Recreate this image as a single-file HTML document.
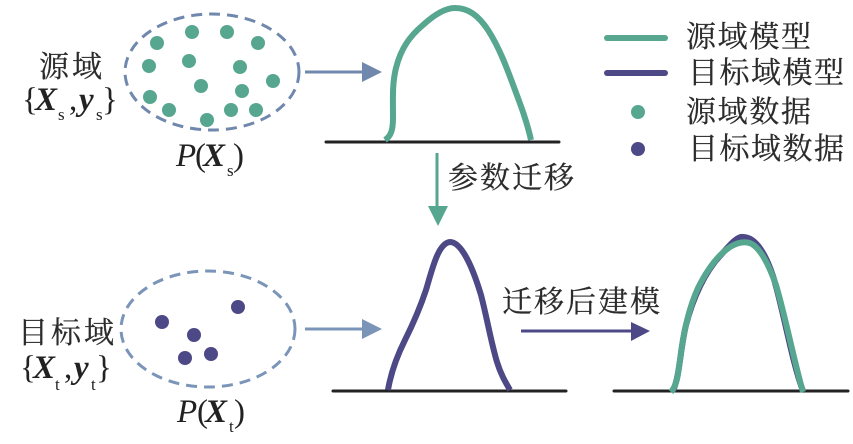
<!DOCTYPE html>
<html><head><meta charset="utf-8"><style>
html,body{margin:0;padding:0;background:#fff}
svg{display:block}
.c{font-family:"Liberation Serif","Noto Serif CJK SC",serif;font-size:30px;fill:#2b2b2b;stroke:#2b2b2b;stroke-width:.25}
.m{font-family:"Liberation Serif",serif;fill:#222}
.b{font-weight:bold;font-style:italic;font-size:33px}
.i{font-style:italic;font-size:33px}
.r{font-size:33px}
.s{font-size:17px}
</style></head><body>
<svg width="853" height="444" viewBox="0 0 853 444" xmlns="http://www.w3.org/2000/svg">
<g fill="none" stroke="#7088ad" stroke-width="3" stroke-dasharray="11 7">
<ellipse cx="212" cy="72" rx="87" ry="58"/>
<ellipse cx="208" cy="329" rx="87" ry="58" stroke="#7a95b8"/>
</g>
<g fill="#57a68f">
<circle cx="157" cy="43" r="7"/><circle cx="192" cy="32" r="7"/><circle cx="227" cy="32" r="7"/><circle cx="258" cy="43" r="7"/>
<circle cx="149" cy="66" r="7"/><circle cx="189" cy="61" r="7"/><circle cx="240" cy="67" r="7"/><circle cx="273" cy="81" r="7"/>
<circle cx="201" cy="86" r="7"/><circle cx="242" cy="91" r="7"/><circle cx="150" cy="97" r="7"/><circle cx="169" cy="110" r="7"/>
<circle cx="207" cy="120" r="7"/><circle cx="231" cy="110" r="7"/><circle cx="256" cy="110" r="7"/>
<circle cx="638" cy="112" r="7"/>
</g>
<g fill="#4d4886">
<circle cx="162" cy="322" r="7"/><circle cx="238" cy="307" r="7"/><circle cx="194" cy="335" r="7"/><circle cx="185" cy="358" r="7"/><circle cx="211" cy="354" r="7"/>
<circle cx="638" cy="149" r="7"/>
</g>
<g stroke="#222" stroke-width="3" stroke-linecap="round">
<line x1="326" y1="142" x2="559" y2="142"/>
<line x1="333" y1="391" x2="566" y2="391"/>
<line x1="614" y1="391" x2="848" y2="391"/>
</g>
<path d="M385 140C391 136 393 130 393 118C393 100 392 84 396 68C401 48 410 36 423 25C434 15 445 8 455 8C468 8 478 15 488 30C499 47 507 68 515 90C521 106 527 122 531 140" fill="none" stroke="#57a68f" stroke-width="6"/>
<path d="M388 390C391 372 397 356 405 340C413 324 420 308 426 290C432 270 438 243 450 242C461 242 472 265 481 295C487 318 491 342 497 362C501 375 506 383 510 390" fill="none" stroke="#4d4886" stroke-width="6"/>
<path d="M673 391C680 375 680 350 686 325C693 298 705 272 720 256C729 246 737 236 743 237C756 237 766 255 773 276C779 295 784 320 790 345C794 362 798 378 803 391" fill="none" stroke="#4d4886" stroke-width="6"/>
<path d="M671 392C677 385 678 375 680 360C683 335 688 310 698 288C707 270 718 255 730 247C738 242 746 241 752 244C762 250 770 268 776 285C785 315 795 365 803 392" fill="none" stroke="#57a68f" stroke-width="6"/>
<g stroke-width="3" fill="none">
<line x1="305" y1="72" x2="364" y2="72" stroke="#7088ad"/>
<line x1="305" y1="329" x2="364" y2="329" stroke="#7a95b8"/>
<line x1="437" y1="153" x2="437" y2="208" stroke="#57a68f"/>
<line x1="521" y1="331" x2="633" y2="331" stroke="#4d4886"/>
</g>
<polygon points="362,62 382,72 362,82" fill="#7088ad"/>
<polygon points="362,319 382,329 362,339" fill="#7a95b8"/>
<polygon points="428,206 448,206 438,226" fill="#57a68f"/>
<polygon points="631,322 650,331 631,341" fill="#4d4886"/>
<line x1="607" y1="38" x2="665" y2="38" stroke="#57a68f" stroke-width="6" stroke-linecap="round"/>
<line x1="607" y1="73" x2="665" y2="73" stroke="#4d4886" stroke-width="6" stroke-linecap="round"/>
<text class="c" x="39" y="77" textLength="63">源域</text>
<text class="c" x="18" y="343" textLength="96">目标域</text>
<text class="c" x="686" y="47" textLength="125">源域模型</text>
<text class="c" x="688" y="83" textLength="156">目标域模型</text>
<text class="c" x="686" y="122" textLength="125">源域数据</text>
<text class="c" x="688" y="159" textLength="156">目标域数据</text>
<text class="c" x="448" y="188" textLength="126">参数迁移</text>
<text class="c" x="502" y="312" textLength="158">迁移后建模</text>
<text class="m r" x="22" y="110">{</text><text class="m b" x="35" y="110">X</text><text class="m s" x="58" y="120">s</text>
<text class="m r" x="69" y="110">,</text><text class="m b" x="79" y="110">y</text><text class="m s" x="96" y="120">s</text><text class="m r" x="102" y="110">}</text>
<text class="m r" x="20" y="378">{</text><text class="m b" x="33" y="378">X</text><text class="m s" x="55" y="390">t</text>
<text class="m r" x="64" y="378">,</text><text class="m b" x="74" y="378">y</text><text class="m s" x="91" y="390">t</text><text class="m r" x="96" y="378">}</text>
<text class="m i" x="176" y="166">P</text><text class="m r" x="195" y="166">(</text><text class="m b" x="203" y="166">X</text><text class="m s" x="227" y="176">s</text><text class="m r" x="233" y="166">)</text>
<text class="m i" x="177" y="422">P</text><text class="m r" x="197" y="422">(</text><text class="m b" x="205" y="422">X</text><text class="m s" x="229" y="432">t</text><text class="m r" x="234" y="422">)</text>
</svg>
</body></html>
